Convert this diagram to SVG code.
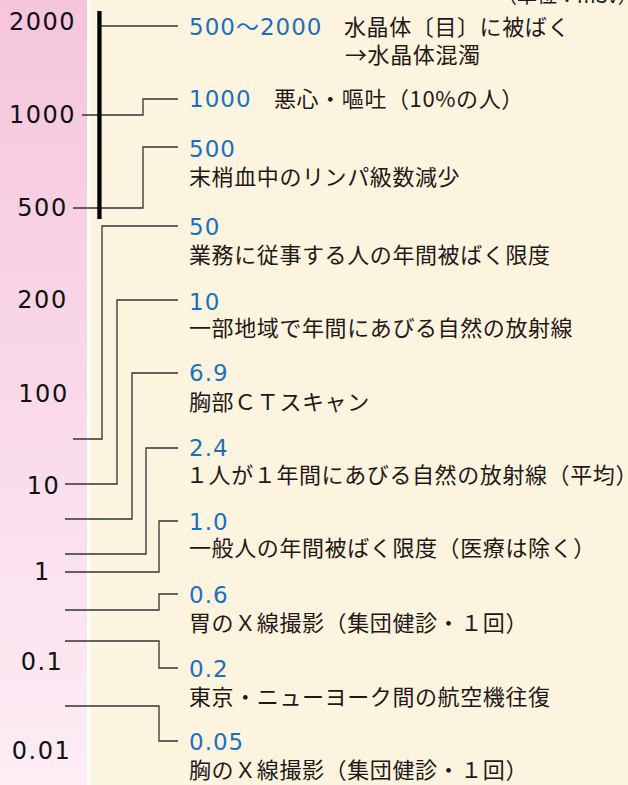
<svg xmlns="http://www.w3.org/2000/svg" width="628" height="785" viewBox="0 0 628 785">
<defs>
<linearGradient id="pinkGrad" x1="0" y1="0" x2="0" y2="1">
<stop offset="0" stop-color="#f5c5db"/>
<stop offset="1" stop-color="#fdedf5"/>
</linearGradient>
<style>
.axis{font-family:"DejaVu Sans","Noto Sans CJK JP",sans-serif;font-size:24px;fill:#111;text-anchor:middle;letter-spacing:1.5px}
.num{font-family:"DejaVu Sans","Noto Sans CJK JP",sans-serif;font-size:23px;fill:#1d6fbd;letter-spacing:1px}
.jp{font-family:"Noto Sans CJK JP",sans-serif;font-size:22px;fill:#231815;letter-spacing:0.6px}
.conn{fill:none;stroke:#333;stroke-width:1.3}
</style>
</defs>
<rect x="0" y="0" width="628" height="785" fill="#ffffff"/>
<rect x="0" y="0" width="87" height="785" fill="url(#pinkGrad)"/>
<rect x="90" y="0" width="538" height="785" fill="#fdf4df"/>

<text class="jp" x="497" y="3" style="font-size:20px;letter-spacing:0">（単位：mSv）</text>

<g id="connectors">
<path class="conn" d="M101 26H178"/>
<path class="conn" d="M82 115H143V99H178"/>
<path class="conn" d="M73 208H143V147H178"/>
<path class="conn" d="M73 439H102V226H178"/>
<path class="conn" d="M65 484H117V300H178"/>
<path class="conn" d="M65 519H132V373H178"/>
<path class="conn" d="M65 554H146V448H178"/>
<path class="conn" d="M65 572H159V521H178"/>
<path class="conn" d="M65 610H159V594H178"/>
<path class="conn" d="M65 641H159V668H178"/>
<path class="conn" d="M65 706H159V741H178"/>
</g>

<g id="range-bar">
<rect x="97.3" y="11" width="4.3" height="208" fill="#000"/>
</g>

<g id="axis">
<text class="axis" x="42.5" y="30">2000</text>
<text class="axis" x="42.5" y="123">1000</text>
<text class="axis" x="42.5" y="216">500</text>
<text class="axis" x="42.5" y="308">200</text>
<text class="axis" x="43.5" y="402">100</text>
<text class="axis" x="43.5" y="494">10</text>
<text class="axis" x="42.5" y="580">1</text>
<text class="axis" x="42" y="670">0.1</text>
<text class="axis" x="41.5" y="759">0.01</text>
</g>

<g id="n2000">
<text class="num" x="189" y="35">500〜2000</text>
<text class="jp" x="344" y="35">水晶体〔目〕に被ばく</text>
<text class="jp" x="345" y="63">→水晶体混濁</text>
</g>
<g id="n1000">
<text class="num" x="189" y="107">1000</text>
<text class="jp" x="274" y="107">悪心・嘔吐（10%の人）</text>
</g>
<g id="n500">
<text class="num" x="189" y="156.5">500</text>
<text class="jp" x="189" y="185">末梢血中のリンパ級数減少</text>
</g>
<g id="n50">
<text class="num" x="189" y="235">50</text>
<text class="jp" x="189" y="263">業務に従事する人の年間被ばく限度</text>
</g>
<g id="n10">
<text class="num" x="189" y="310">10</text>
<text class="jp" x="189" y="336">一部地域で年間にあびる自然の放射線</text>
</g>
<g id="n6_9">
<text class="num" x="189" y="381">6.9</text>
<text class="jp" x="189" y="410">胸部ＣＴスキャン</text>
</g>
<g id="n2_4">
<text class="num" x="189" y="456">2.4</text>
<text class="jp" x="186" y="483">１人が１年間にあびる自然の放射線（平均）</text>
</g>
<g id="n1_0">
<text class="num" x="189" y="530">1.0</text>
<text class="jp" x="189" y="556">一般人の年間被ばく限度（医療は除く）</text>
</g>
<g id="n0_6">
<text class="num" x="189" y="603">0.6</text>
<text class="jp" x="189" y="631">胃のＸ線撮影（集団健診・１回）</text>
</g>
<g id="n0_2">
<text class="num" x="189" y="677">0.2</text>
<text class="jp" x="189" y="705">東京・ニューヨーク間の航空機往復</text>
</g>
<g id="n0_05">
<text class="num" x="189" y="750">0.05</text>
<text class="jp" x="189" y="778">胸のＸ線撮影（集団健診・１回）</text>
</g>
</svg>
